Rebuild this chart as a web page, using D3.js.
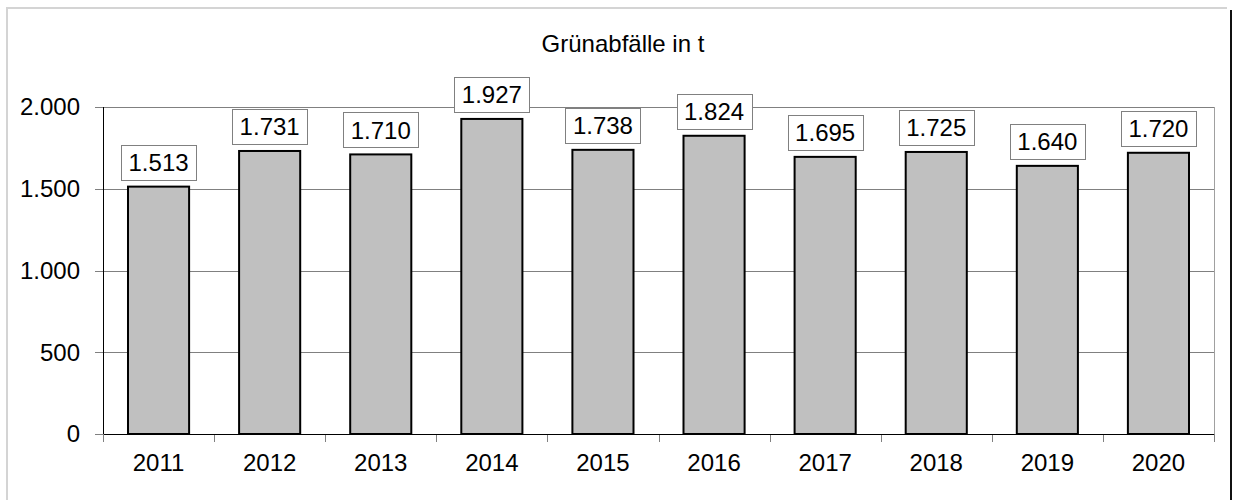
<!DOCTYPE html>
<html>
<head>
<meta charset="utf-8">
<script src="https://cdn.jsdelivr.net/npm/d3@7"></script>
<style>
  body { margin: 0; background: #fff; }
  text { font-family: "Liberation Sans", Arial, sans-serif; fill: #000; }
</style>
</head>
<body>
<svg id="svg" width="1236" height="500"></svg>
<script>
const years = ['2011', '2012', '2013', '2014', '2015', '2016', '2017', '2018', '2019', '2020']
const values = [1513, 1731, 1710, 1927, 1738, 1824, 1695, 1725, 1640, 1720]
const yTicks = [0, 500, 1000, 1500, 2000]
const title = 'Grünabfälle in t'

const fmt = v => d3.format(',')(v).replace(/,/g, '.')

const svg = d3.select('#svg')

// outer frame (grey left/top, dark right)
svg.append('line').attr('x1', 7).attr('x2', 7).attr('y1', 8).attr('y2', 500)
  .attr('stroke', '#d4d4d4').attr('stroke-width', 2)
svg.append('line').attr('x1', 6).attr('x2', 1227).attr('y1', 8).attr('y2', 8)
  .attr('stroke', '#d4d4d4').attr('stroke-width', 2)
svg.append('line').attr('x1', 1231).attr('x2', 1231).attr('y1', 10).attr('y2', 500)
  .attr('stroke', '#111').attr('stroke-width', 2)

const plotL = 103, plotR = 1214, plotT = 107, plotB = 434
const fs = '24px'

const x = d3.scaleBand().domain(years).range([plotL, plotR]).paddingInner(0.45).paddingOuter(0.225)
const y = d3.scaleLinear().domain([0, 2000]).range([plotB, plotT])

// title
svg.append('text').attr('x', 623).attr('y', 52).attr('text-anchor', 'middle')
  .style('font-size', fs).text(title)

// gridlines
svg.append('g').selectAll('line').data(yTicks.filter(d => d > 0)).enter().append('line')
  .attr('x1', plotL - 8).attr('x2', plotR)
  .attr('y1', d => Math.round(y(d)) + 0.5).attr('y2', d => Math.round(y(d)) + 0.5)
  .attr('stroke', '#808080').attr('stroke-width', 1)

// right border of plot area
svg.append('line').attr('x1', plotR + 0.5).attr('x2', plotR + 0.5).attr('y1', plotT).attr('y2', plotB + 8)
  .attr('stroke', '#a0a0a0')

// x ticks at band edges
const edges = d3.range(years.length + 1).map(i => plotL + i * (plotR - plotL) / years.length)
svg.append('g').selectAll('line').data(edges).enter().append('line')
  .attr('x1', d => Math.round(d) + 0.5).attr('x2', d => Math.round(d) + 0.5)
  .attr('y1', plotB).attr('y2', plotB + 8)
  .attr('stroke', '#808080')

// y tick labels
svg.append('g').selectAll('text').data(yTicks).enter().append('text')
  .attr('x', 80).attr('y', d => y(d)).attr('dy', '0.35em')
  .attr('text-anchor', 'end').style('font-size', fs)
  .text(d => fmt(d))

// x labels
svg.append('g').selectAll('text').data(years).enter().append('text')
  .attr('x', d => x(d) + x.bandwidth() / 2).attr('y', 471)
  .attr('text-anchor', 'middle').style('font-size', fs)
  .text(d => d)

// bars
svg.append('g').selectAll('rect').data(values).enter().append('rect')
  .attr('x', (d, i) => x(years[i]))
  .attr('y', d => y(d))
  .attr('width', x.bandwidth())
  .attr('height', d => plotB - y(d))
  .attr('fill', '#c0c0c0').attr('stroke', '#000').attr('stroke-width', 2)

// axes lines
svg.append('line').attr('x1', plotL + 0.5).attr('x2', plotL + 0.5).attr('y1', plotT).attr('y2', plotB)
  .attr('stroke', '#000')
svg.append('line').attr('x1', plotL - 8).attr('x2', plotL).attr('y1', plotB + 0.5).attr('y2', plotB + 0.5)
  .attr('stroke', '#808080')
svg.append('line').attr('x1', plotL).attr('x2', plotR).attr('y1', plotB + 0.5).attr('y2', plotB + 0.5)
  .attr('stroke', '#000')
svg.append('line').attr('x1', plotL + 0.5).attr('x2', plotL + 0.5).attr('y1', plotB).attr('y2', plotB + 8)
  .attr('stroke', '#808080')

// value labels in boxes
const labels = svg.append('g').selectAll('g').data(values).enter().append('g')
labels.each(function (d, i) {
  const g = d3.select(this)
  const cx = x(years[i]) + x.bandwidth() / 2
  const boxBottom = y(d) - 7
  const t = g.append('text').attr('x', cx).attr('y', boxBottom - 8.5)
    .attr('text-anchor', 'middle').style('font-size', fs).text(fmt(d))
  const w = t.node().getComputedTextLength() + 15
  g.insert('rect', 'text')
    .attr('x', Math.round(cx - w / 2) + 0.5).attr('y', Math.round(boxBottom - 35) + 0.5)
    .attr('width', Math.round(w)).attr('height', 35)
    .attr('fill', '#fff').attr('stroke', '#808080')
})
</script>
</body>
</html>
